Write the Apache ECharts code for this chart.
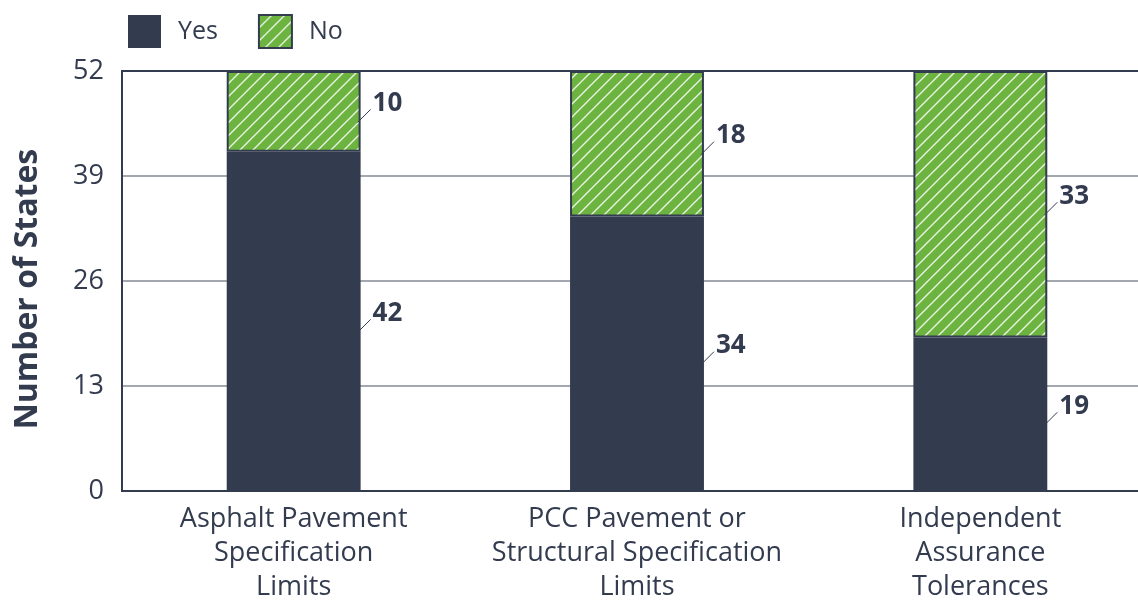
<!DOCTYPE html>
<html>
<head>
<meta charset="utf-8">
<script src="https://cdn.jsdelivr.net/npm/echarts@6/dist/echarts.min.js"></script>
<style>
html,body{margin:0;padding:0;background:#fff;}
#chart{width:1138px;height:601px;}
</style>
</head>
<body>
<div id="chart"></div>
<script>
const categories = ['Asphalt Pavement\nSpecification\nLimits', 'PCC Pavement or\nStructural Specification\nLimits', 'Independent\nAssurance\nTolerances'];
const yesValues = [42, 34, 19];
const noValues = [10, 18, 33];
const yAxisMin = 0;
const yAxisMax = 52;
const yAxisStep = 13;

const DARK = '#333b4f';
const GREEN = '#6cb33f';
const FONT = '"Open Sans", "Noto Sans", sans-serif';

function makeHatch() {
  const s = 13;
  const c = document.createElement('canvas');
  c.width = s; c.height = s;
  const ctx = c.getContext('2d');
  ctx.fillStyle = GREEN;
  ctx.fillRect(0, 0, s, s);
  ctx.strokeStyle = 'rgba(255,255,255,0.85)';
  ctx.lineWidth = 1.4;
  ctx.beginPath();
  ctx.moveTo(0, s); ctx.lineTo(s, 0);
  ctx.moveTo(-2, 2); ctx.lineTo(2, -2);
  ctx.moveTo(s - 2, s + 2); ctx.lineTo(s + 2, s - 2);
  ctx.stroke();
  return c;
}
const hatch = { image: makeHatch(), repeat: 'repeat' };

const labelData = [];
categories.forEach((c, i) => {
  labelData.push([i, 0, yesValues[i], yesValues[i]]);
  labelData.push([i, yesValues[i], yesValues[i] + noValues[i], noValues[i]]);
});

const BAR_FRAC = 0.39;

function renderLabel(params, api) {
  const cat = api.value(0), lo = api.value(1), hi = api.value(2), v = api.value(3);
  const mid = api.coord([cat, (lo + hi) / 2]);
  const band = api.size([1, 0])[0];
  const x0 = mid[0] + band * BAR_FRAC / 2;
  const y0 = mid[1];
  return {
    type: 'group',
    children: [
      { type: 'line', shape: { x1: x0 - 3, y1: y0 + 11, x2: x0 + 10, y2: y0 - 2 },
        style: { stroke: DARK, lineWidth: 1 } },
      { type: 'text', x: x0 + 12, y: y0 - 8,
        style: { text: String(v), fill: DARK, font: 'bold 26px ' + FONT, align: 'left', verticalAlign: 'middle' } }
    ]
  };
}

const chart = echarts.init(document.getElementById('chart'));
chart.setOption({
  animation: false,
  backgroundColor: '#fff',
  legend: {
    data: ['Yes', 'No'],
    left: 128, top: 14, padding: 0,
    icon: 'rect',
    itemWidth: 33, itemHeight: 33, itemGap: 40,
    textStyle: { color: DARK, fontSize: 25, fontFamily: FONT, padding: [0, 0, 0, 12] }
  },
  grid: {
    left: 122, top: 71, width: 1030, height: 420,
    outerBoundsMode: 'none', containLabel: false,
    show: true, borderColor: DARK, borderWidth: 2, backgroundColor: 'transparent'
  },
  xAxis: {
    type: 'category',
    data: categories,
    axisLine: { show: true, lineStyle: { color: DARK, width: 2 } },
    axisTick: { show: false },
    axisLabel: { color: DARK, fontSize: 27, fontFamily: FONT, lineHeight: 34, margin: 11, interval: 0 }
  },
  yAxis: {
    type: 'value',
    min: yAxisMin, max: yAxisMax, interval: yAxisStep,
    name: 'Number of States',
    nameLocation: 'middle',
    nameGap: 78,
    nameTextStyle: { color: DARK, fontSize: 32, fontWeight: 'bold', fontFamily: FONT, padding: [0, 16, 0, 0] },
    axisLine: { show: true, lineStyle: { color: DARK, width: 2 } },
    axisTick: { show: false },
    axisLabel: { color: DARK, fontSize: 27, fontFamily: FONT, margin: 18 },
    splitLine: { show: true, showMinLine: false, showMaxLine: false, lineStyle: { color: '#a3a7b0', width: 2 } }
  },
  series: [
    {
      name: 'Yes', type: 'bar', stack: 'total', data: yesValues,
      barWidth: (BAR_FRAC * 100) + '%',
      itemStyle: { color: DARK }
    },
    {
      name: 'No', type: 'bar', stack: 'total', data: noValues,
      barWidth: (BAR_FRAC * 100) + '%',
      itemStyle: { color: hatch, borderColor: DARK, borderWidth: 2 }
    },
    {
      type: 'custom', data: labelData, renderItem: renderLabel,
      encode: { x: 0, y: 1 }, silent: true, z: 5
    }
  ]
});
</script>
</body>
</html>
